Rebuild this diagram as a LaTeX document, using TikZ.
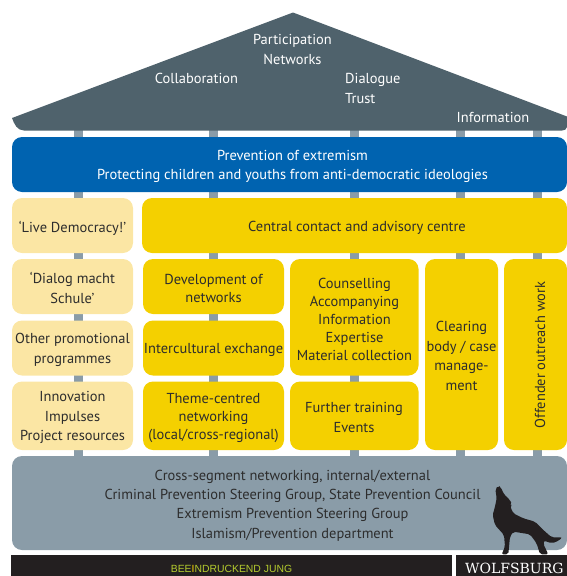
\documentclass[tikz,border=0pt]{standalone}
\usepackage{fontspec}
\setmainfont{PT Sans}
\newfontfamily\slabfont{DejaVu Serif}
\newfontfamily\footfont{Liberation Sans}
\definecolor{roofc}{HTML}{4F626C}
\definecolor{bluec}{HTML}{0063B0}
\definecolor{paley}{HTML}{FBE6A4}
\definecolor{yel}{HTML}{F4D000}
\definecolor{greyc}{HTML}{8A9CA8}
\definecolor{ink}{HTML}{2D2D2D}
\definecolor{blk}{HTML}{231F20}
\definecolor{lime}{HTML}{B5CC2E}
\tikzset{
  box/.style={rounded corners=10pt,inner sep=0pt},
  palebox/.style={box,fill=paley},
  yelbox/.style={box,fill=yel},
  bluebox/.style={box,fill=bluec},
  greybox/.style={box,fill=greyc},
  pillar/.style={draw=greyc,line width=9pt},
  boxtext/.style={inner sep=0pt,align=center,text=ink},
  rooflabel/.style={text=white,inner sep=0pt,font=\fontsize{14.45}{20}\selectfont,align=center},
}
% style, x0, y0, x1, y1, name
\newcommand{\bx}[6]{\node[#1,minimum width=#4pt-#2pt,minimum height=#5pt-#3pt] (#6) at ({(#2+#4)/2},{(#3+#5)/2}) {};}
% name, x, y, leading, text
\newcommand{\tx}[5]{\node[boxtext,font=\fontsize{14.45}{#4}\selectfont] (#1) at (#2,#3) {#5};}
\begin{document}
\begin{tikzpicture}[x=1pt,y=-1pt]
\useasboundingbox (0,0) rectangle (567,576);
% pillars
\foreach \n/\x in {a/78.5,b/213.5,c/354.5,d/460.5,e/537.5}{
  \coordinate (\n top) at (\x,128);
  \coordinate (\n bot) at (\x,456);
  \draw[pillar] (\n top) -- (\n bot);
}
% roof
\fill[roofc] (12,118) -- (293,12.5) -- (567,116.5) -- (567,127) to[out=-90,in=0] (562,130.5) -- (24,130.5) to[out=180,in=-70] (12,118) -- cycle;
\node[rooflabel] (part) at (292.5,49.5) {Participation\\Networks};
\node[rooflabel] (coll) at (196.5,78.5) {Collaboration};
\node[rooflabel,align=left,anchor=west] (dial) at (345,88.5) {Dialogue\\Trust};
\node[rooflabel] (info) at (493,117.5) {Information};
% blue band
\bx{bluebox}{12}{137}{567}{192}{prev}
\node[boxtext,text=white,font=\fontsize{14.45}{19}\selectfont] (prevtxt) at (292.5,166.5) {Prevention of extremism\\Protecting children and youths from anti-democratic ideologies};
% left column
\bx{palebox}{12}{198}{133}{253}{live}
\tx{livetxt}{72.5}{228}{18}{`Live Democracy!'}
\bx{palebox}{12}{259}{133}{314}{dial2}
\tx{dialtxt}{72.5}{288}{20}{`Dialog macht\\Schule'}
\bx{palebox}{12}{320.5}{133}{375.5}{other}
\tx{othertxt}{72.5}{350}{20.5}{Other promotional\\programmes}
\bx{palebox}{12}{381.5}{133}{450}{innov}
\tx{innovtxt}{72.5}{417.5}{19.5}{Innovation\\Impulses\\Project resources}
% centre
\bx{yelbox}{142}{198}{567}{253}{central}
\tx{centraltxt}{357}{228}{18}{Central contact and advisory centre}
\bx{yelbox}{143}{259}{284}{314}{devn}
\tx{devntxt}{213.5}{288}{18}{Development of\\networks}
\bx{yelbox}{143}{320.5}{284}{375.5}{inter}
\tx{intertxt}{213.5}{350}{18}{Intercultural exchange}
\bx{yelbox}{143}{381.5}{284}{450}{theme}
\tx{themetxt}{213.5}{418.5}{18}{Theme-centred\\networking\\(local/cross-regional)}
\bx{yelbox}{290}{259}{418.5}{375.5}{couns}
\tx{counstxt}{354.5}{319}{18}{Counselling\\Accompanying\\Information\\Expertise\\Material collection}
\bx{yelbox}{290}{381.5}{418.5}{450}{train}
\tx{traintxt}{354}{417.5}{20}{Further training\\Events}
\bx{yelbox}{425}{259}{498}{450}{clear}
\tx{cleartxt}{461.5}{356}{19.5}{Clearing\\body / case\\manage-\\ment}
\bx{yelbox}{504}{259}{567}{450}{outre}
\node[rotate=90,boxtext,font=\fontsize{14.45}{18}\selectfont] (outtxt) at (540,355) {Offender outreach work};
% base
\bx{greybox}{12}{456}{567}{550}{base}
\tx{basetxt}{292.5}{505.5}{19.3}{Cross-segment networking, internal/external\\Criminal Prevention Steering Group, State Prevention Council\\Extremism Prevention Steering Group\\Islamism/Prevention department}
% footer
\fill[blk] (11,555) rectangle (452,576);
\fill[blk] (456,555) rectangle (567,576);
\node[text=lime,inner sep=0pt,font=\footfont\fontsize{10.4}{11}\selectfont] (bee) at (231.5,568.5) {BEE\textcolor{yel}{I}NDRUCKEND JUNG};
\node[text=white,inner sep=0pt,anchor=west,font=\slabfont\fontsize{14}{15}\selectfont] (wob) at (465,568.5) {WOLFSBURG};
% wolf
\begin{scope}[shift={(480,475)},x=0.3333pt,y=-0.3333pt]
\fill[blk,rounded corners=2pt] (46,42) -- (55,32) -- (62,36) -- (72,58) -- (90,75) -- (96,88) -- (90,93) -- (100,115) -- (130,130) -- (165,140) -- (190,165) -- (215,187) -- (247,187) -- (235,198) -- (215,205) -- (192,197) -- (190,207) -- (205,238) -- (180,238) -- (170,205) -- (150,178) -- (100,170) -- (90,185) -- (85,238) -- (65,238) -- (75,215) -- (72,180) -- (45,150) -- (38,120) -- (45,95) -- (50,70) -- cycle;
\end{scope}
\end{tikzpicture}
\end{document}
